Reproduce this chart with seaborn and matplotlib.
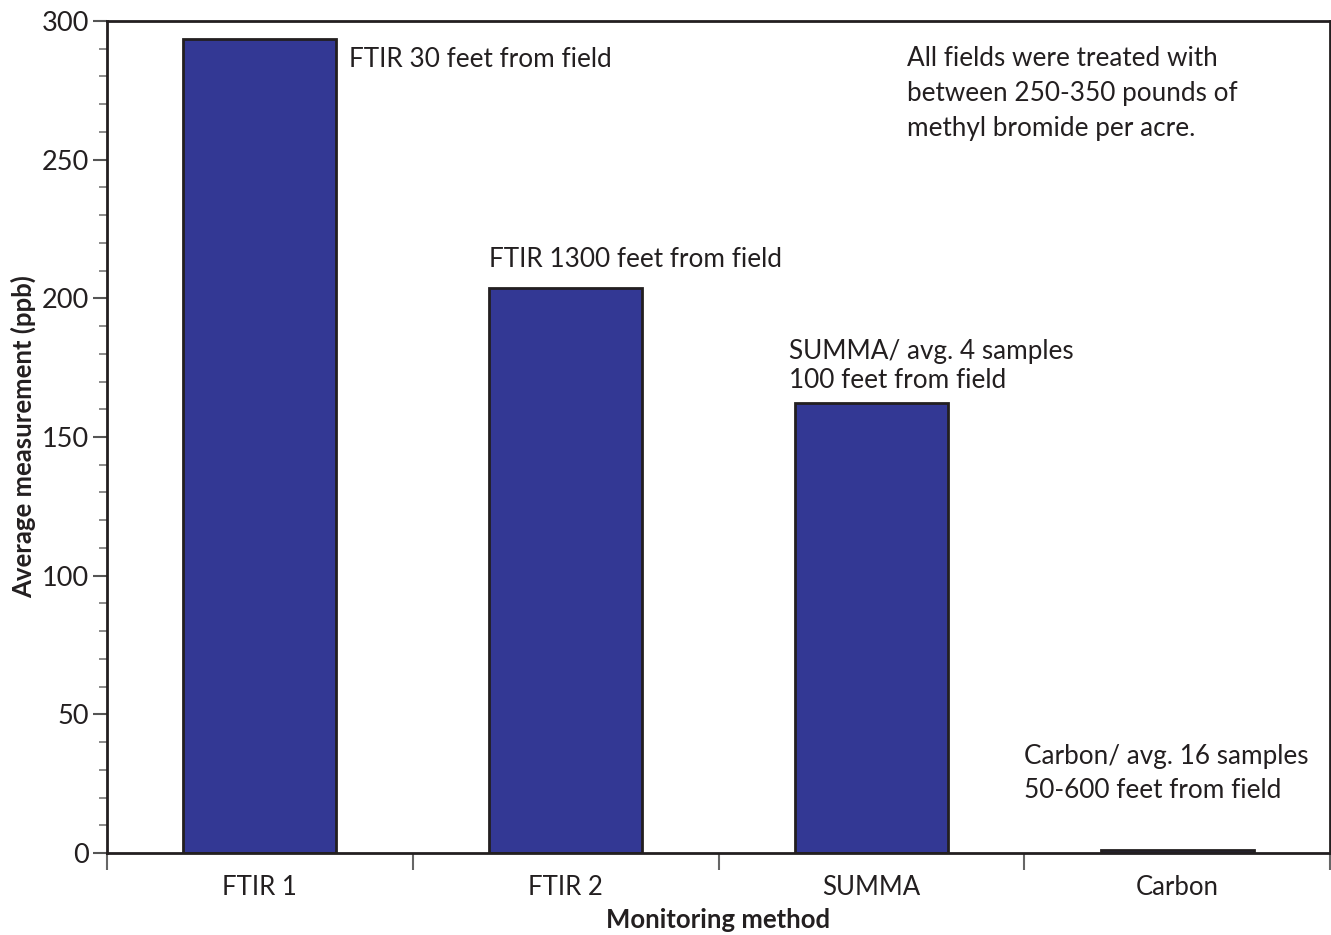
import matplotlib.pyplot as plt
from matplotlib.ticker import MultipleLocator, FixedLocator, NullFormatter
import seaborn as sns
import pandas as pd

methods = ["FTIR 1", "FTIR 2", "SUMMA", "Carbon"]
avg_ppb = [293.5, 203.8, 162.4, 1.0]

notes = [
    "FTIR 30 feet from field",
    "FTIR 1300 feet from field",
    "SUMMA/ avg. 4 samples\n100 feet from field",
    "Carbon/ avg. 16 samples\n50-600 feet from field",
]
note_x = [0.29, 0.75, 1.73, 2.50]
note_y = [286, 214, 175.5, 28.5]
note_spacing = [1.2, 1.2, 1.2, 1.45]

side_note = "All fields were treated with\nbetween 250-350 pounds of\nmethyl bromide per acre."

sns.set_style("white")
plt.rcParams['font.family'] = ['Lato', 'DejaVu Sans']

df = pd.DataFrame({"method": methods, "ppb": avg_ppb})

fig = plt.figure(figsize=(13.31, 9.35), dpi=100)
ax = fig.add_axes([107 / 1331, 1 - 853 / 935, 1223 / 1331, 832 / 935])

sns.barplot(data=df, x="method", y="ppb", color="#333894", saturation=1,
            width=0.5, edgecolor="#231f20", linewidth=2, ax=ax)

ax.set_xlim(-0.5, 3.5)
ax.set_ylim(0, 300)

for s in ax.spines.values():
    s.set_color("#231f20")
    s.set_linewidth(2)

# y ticks
ax.yaxis.set_major_locator(MultipleLocator(50))
ax.yaxis.set_minor_locator(MultipleLocator(10))
ax.tick_params(axis="y", which="major", left=True, length=10, width=1.5,
               color="#555555", labelsize=19.5, labelcolor="#231f20", pad=3)
ax.tick_params(axis="y", which="minor", left=True, length=6, width=1.2,
               color="#777777")

# x: boundary ticks pointing down, labels at centres
ax.xaxis.set_minor_locator(FixedLocator([-0.5, 0.5, 1.5, 2.5, 3.5]))
ax.xaxis.set_minor_formatter(NullFormatter())
ax.tick_params(axis="x", which="minor", bottom=True, direction="out",
               length=12, width=1.5, color="#666666")
ax.tick_params(axis="x", which="major", bottom=False, labelsize=18.5,
               labelcolor="#231f20", pad=12)

ax.set_xlabel("Monitoring method", fontsize=18.5, fontweight="bold",
              color="#231f20", labelpad=6)
ax.set_ylabel("Average measurement (ppb)", fontsize=18.5, fontweight="bold",
              color="#231f20", labelpad=4)

for txt, x, y, ls in zip(notes, note_x, note_y, note_spacing):
    ax.text(x, y, txt, fontsize=18.8, color="#231f20", ha="left", va="center",
            linespacing=ls)

ax.text(2.117, 273.7, side_note, fontsize=18.8, color="#231f20", ha="left",
        va="center", linespacing=1.5)

fig.savefig("out.png", dpi=100)
